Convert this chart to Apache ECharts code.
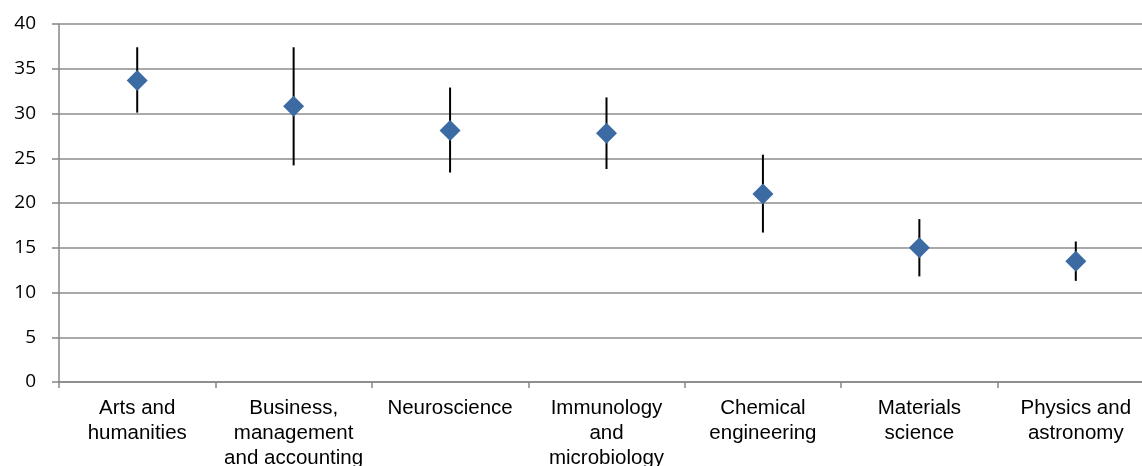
<!DOCTYPE html>
<html><head><meta charset="utf-8">
<script src="https://cdn.jsdelivr.net/npm/echarts@6/dist/echarts.min.js"></script>
<style>html,body{margin:0;padding:0;background:#fff}#c{width:1142px;height:466px}</style>
</head><body><div id="c"></div>
<script>
var categories = ["Arts and\nhumanities","Business,\nmanagement\nand accounting","Neuroscience","Immunology\nand\nmicrobiology","Chemical\nengineering","Materials\nscience","Physics and\nastronomy"];
var means = [33.7, 30.8, 28.1, 27.8, 21.0, 15.0, 13.5];
var upper = [37.4, 37.4, 32.9, 31.8, 25.4, 18.2, 15.7];
var lower = [30.1, 24.2, 23.4, 23.8, 16.7, 11.8, 11.3];
var yTicks = {min: 0, max: 40, interval: 5};

var chart = echarts.init(document.getElementById('c'), null, {renderer: 'canvas'});
var errData = categories.map(function (c, i) { return [i, lower[i], upper[i]]; });
chart.setOption({
  animation: false,
  grid: {left: 59, top: 24, bottom: 84, right: -12, containLabel: false, outerBoundsMode: 'none'},
  xAxis: {
    type: 'category', data: categories, boundaryGap: true,
    axisLine: {lineStyle: {color: '#868686', width: 1.5}},
    axisTick: {show: true, length: 6, alignWithLabel: false, lineStyle: {color: '#868686', width: 1.5}},
    axisLabel: {color: '#000', fontFamily: 'Liberation Sans, Arial, sans-serif', fontSize: 20.5, lineHeight: 25, margin: 14, interval: 0}
  },
  yAxis: {
    type: 'value', min: yTicks.min, max: yTicks.max, interval: yTicks.interval,
    axisLine: {show: true, lineStyle: {color: '#868686', width: 1.5}},
    axisTick: {show: true, length: 7, lineStyle: {color: '#868686', width: 1.5}},
    splitLine: {lineStyle: {color: '#8c8c8c', width: 1.5}},
    axisLabel: {color: '#000', fontFamily: 'Open Sans, sans-serif', fontSize: 19, margin: 23}
  },
  series: [
    {
      type: 'custom', data: errData, z: 2,
      renderItem: function (params, api) {
        var x = api.value(0);
        var p1 = api.coord([x, api.value(1)]);
        var p2 = api.coord([x, api.value(2)]);
        return {type: 'line', shape: {x1: p1[0], y1: p1[1], x2: p2[0], y2: p2[1]}, style: {stroke: '#000', lineWidth: 2}};
      }
    },
    {
      type: 'scatter', data: means, symbol: 'diamond', symbolSize: [21, 21], z: 3,
      itemStyle: {color: '#3C6AA2', opacity: 1}
    }
  ]
});
</script></body></html>
